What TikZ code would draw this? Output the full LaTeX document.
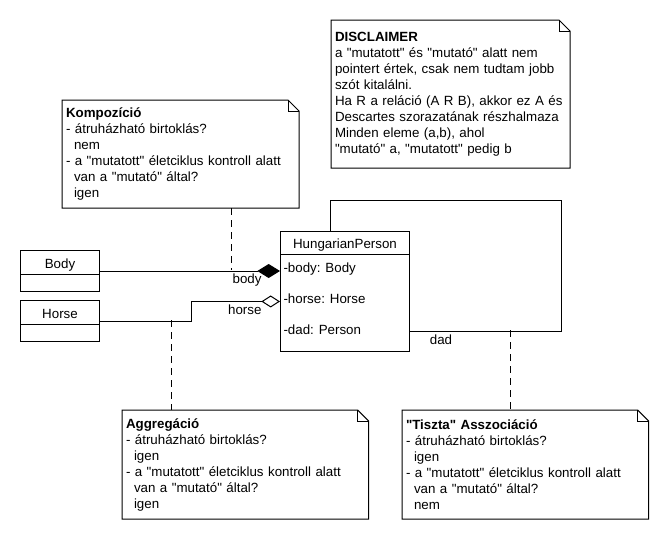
\documentclass[tikz,border=0pt]{standalone}
\usepackage{fontspec}
\setmainfont{Liberation Sans}[Ligatures=TeXOff]
\usetikzlibrary{arrows.meta,shapes.multipart,positioning,calc}

\tikzset{every picture/.style={line width=0.75pt}}
\tikzset{
  uml/.style={font=\fontsize{10}{12}\selectfont},
  notebox/.style={uml, anchor=north west, inner xsep=3pt, inner ysep=0pt, outer sep=0pt, align=left},
  classbox/.style={uml, draw, anchor=north west, rectangle split, rectangle split parts=2,
    rectangle split part align={center,left}, align=left, inner xsep=2.25pt, inner ysep=0pt},
  notelink/.style={dash pattern=on 5.25pt off 3.75pt},
  compose/.style={-{Diamond[length=17pt,width=10.5pt]}},
  aggregate/.style={-{Diamond[open,length=14pt,width=9pt]}},
  rolelabel/.style={uml, inner xsep=0pt, inner ysep=2pt}
}

\begin{document}
\begin{tikzpicture}[x=0.75pt,y=0.75pt,yscale=-1,xscale=1]
\useasboundingbox (0,0) rectangle (670,540);

%Shape: Note (disclaimer)
\node[notebox, text width=173.25pt, minimum height=111pt] (disclaimer) at (331,20) {\textbf{DISCLAIMER}\\
a "mutatott" és "mutató" alatt nem\\
pointert értek, csak nem tudtam jobb\\
szót kitalálni.\\
Ha R a reláció (A R B), akkor ez A és\\
Descartes szorazatának részhalmaza\\
Minden eleme (a,b), ahol\\
"mutató" a, "mutatott" pedig b};
%Shape: Note (kompozicio)
\node[notebox, text width=171.75pt, minimum height=81pt] (kompnote) at (62,100) {\textbf{Kompozíció}\\
- átruházható birtoklás?\\
\hspace*{6pt}nem\\
- a "mutatott" életciklus kontroll alatt\\
\hspace*{6pt}van a "mutató" által?\\
\hspace*{6pt}igen};
%Shape: Note (aggregacio)
\node[notebox, text width=179pt, minimum height=81.75pt] (aggrnote) at (122,410) {\textbf{Aggregáció}\\
- átruházható birtoklás?\\
\hspace*{6pt}igen\\
- a "mutatott" életciklus kontroll alatt\\
\hspace*{6pt}van a "mutató" által?\\
\hspace*{6pt}igen};
%Shape: Note (asszociacio)
\node[notebox, text width=179pt, minimum height=81.75pt] (assznote) at (402,410) {\textbf{"Tiszta" Asszociáció}\\
- átruházható birtoklás?\\
\hspace*{6pt}igen\\
- a "mutatott" életciklus kontroll alatt\\
\hspace*{6pt}van a "mutató" által?\\
\hspace*{6pt}nem};
% dog-eared frames
\foreach \n in {disclaimer,kompnote,aggrnote,assznote}{
  \draw (\n.north west) -- ($(\n.north east)+(-11,0)$) -- ($(\n.north east)+(0,11)$) -- (\n.south east) -- (\n.south west) -- cycle ;
  \draw ($(\n.north east)+(-11,0)$) |- ($(\n.north east)+(0,11)$) ;
}

%Shape: Class Body
\node[classbox, minimum width=59.25pt] (body) at (20,250) {\rule[-4.5pt]{0pt}{17.25pt}Body \nodepart{second} \rule{0pt}{12pt}};
%Shape: Class Horse
\node[classbox, minimum width=59.25pt] (horse) at (20,300) {\rule[-4.5pt]{0pt}{17.25pt}Horse \nodepart{second} \rule{0pt}{12pt}};
%Shape: Class HungarianPerson
\node[classbox, minimum width=96.75pt] (person) at (280,231) {\rule[-4.5pt]{0pt}{16.5pt}HungarianPerson \nodepart{second} \rule{0pt}{12.75pt}-body: Body\\[11.6pt]
-horse: Horse\\[11.6pt]
-dad: Person\rule[-12pt]{0pt}{12pt}};

%Straight Lines (composition)
\draw[compose] (body.east) -- (body.east -| person.west) node[rolelabel, anchor=north east, xshift=-13.5pt] {body} ;
%Straight Lines (aggregation)
\draw[aggregate] (horse.east) -- ++(91,0) |- ($(person.west)+(0,10)$) node[rolelabel, anchor=north east, xshift=-13.5pt] {horse} ;
%Straight Lines (self association)
\coordinate (dadcorner) at (561,200);
\draw ($(person.north west)+(50,0)$) |- (dadcorner) |- ($(person.east)+(0,40)$) node[rolelabel, anchor=north west, xshift=14.5pt] {dad} ;

% note links
\coordinate (kompfoot) at (231,270);
\coordinate (aggrfoot) at (171,320);
\coordinate (asszfoot) at (510,330);
\draw[notelink] (kompnote.south -| kompfoot) -- (kompfoot) ;
\draw[notelink] (aggrfoot) -- (aggrfoot |- aggrnote.north) ;
\draw[notelink] (asszfoot) -- (asszfoot |- assznote.north) ;

\end{tikzpicture}
\end{document}
